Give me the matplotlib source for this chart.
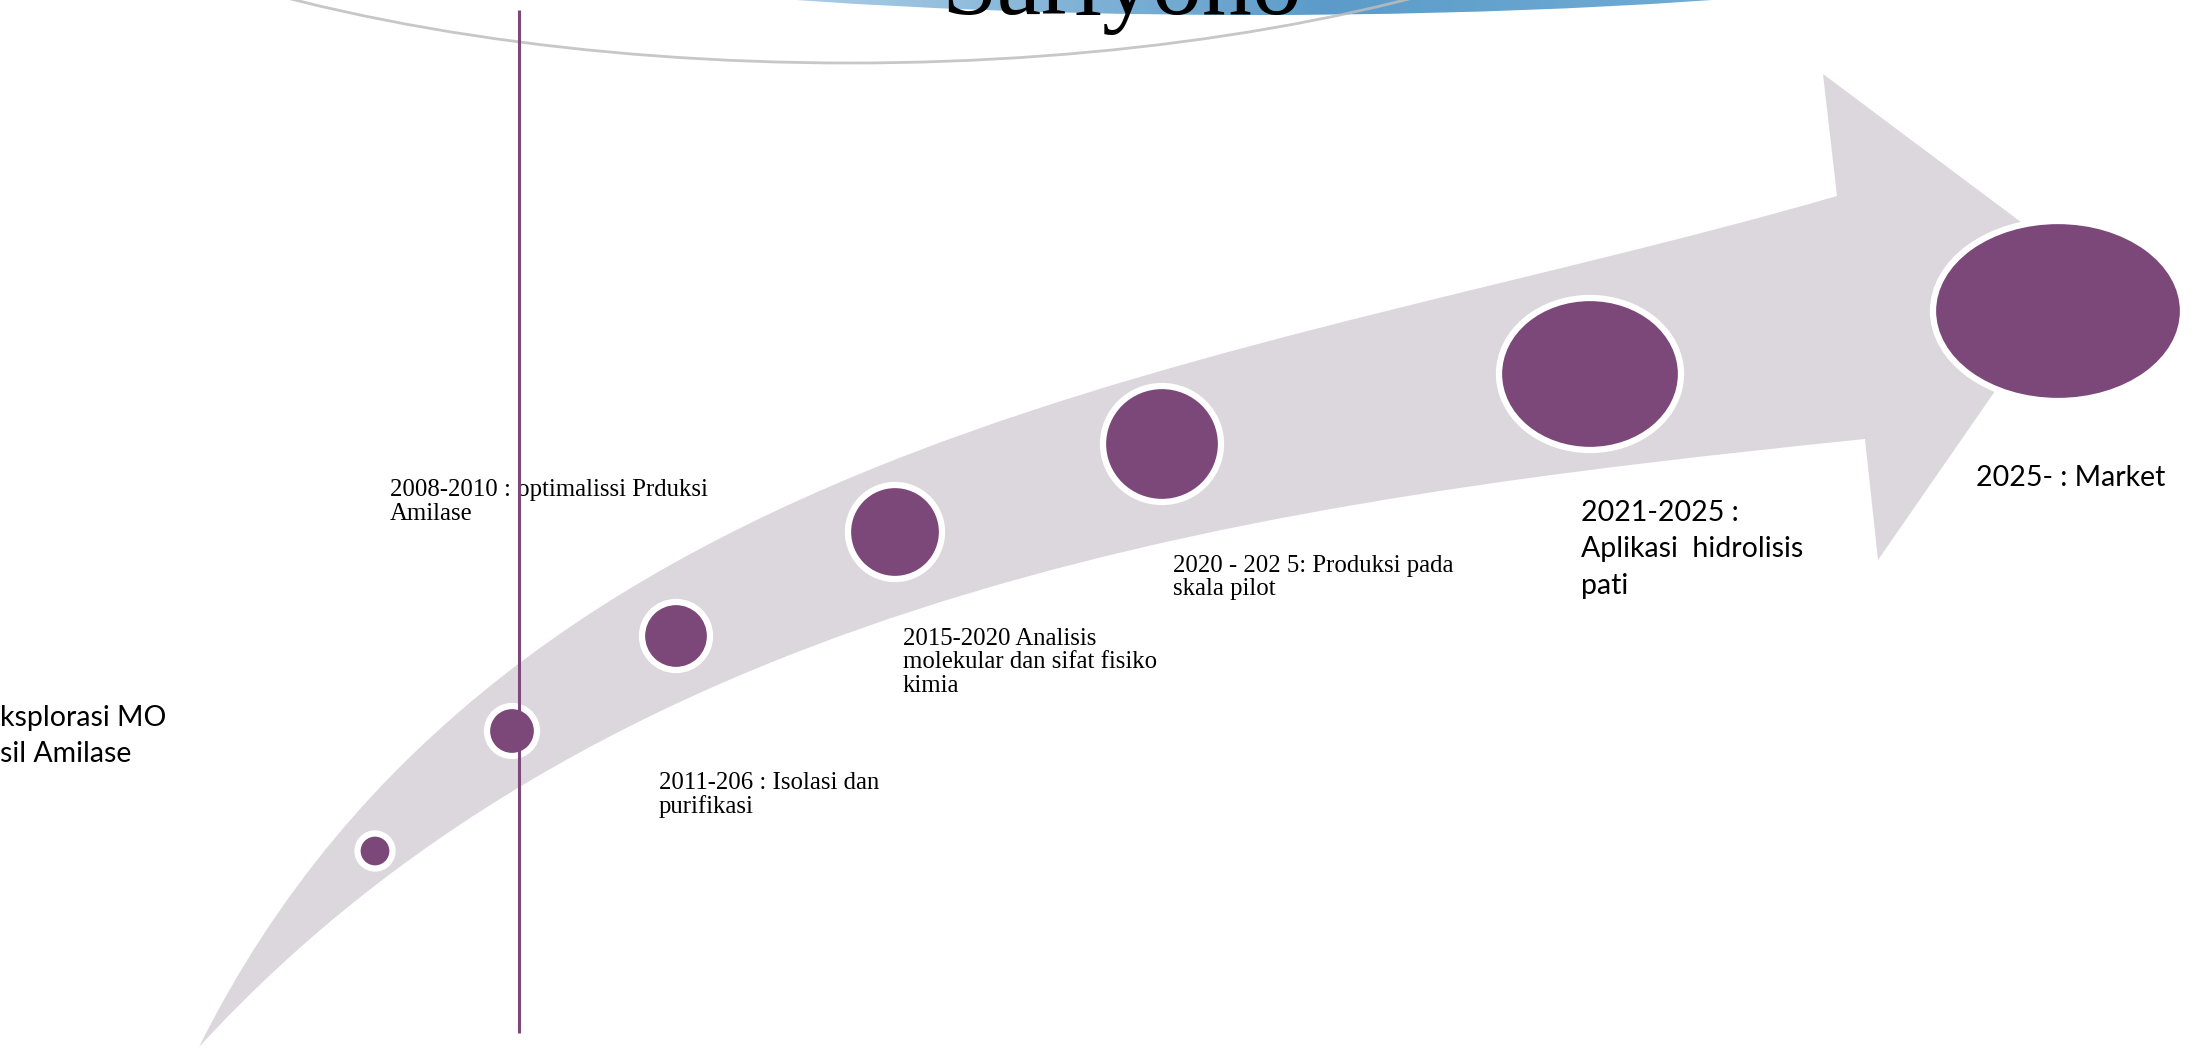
import numpy as np
import matplotlib
matplotlib.use('Agg')
import matplotlib.pyplot as plt
from matplotlib.path import Path
from matplotlib.patches import PathPatch, Ellipse

# ---- milestone data (pixel space of the slide, y grows downwards) ----
milestone_labels = [
    "ksplorasi MO\nsil Amilase",
    "2008-2010 : optimalissi Prduksi\nAmilase",
    "2011-206 : Isolasi dan\npurifikasi",
    "2015-2020 Analisis\nmolekular dan sifat fisiko\nkimia",
    "2020 - 202 5: Produksi pada\nskala pilot",
    "2021-2025 :\nAplikasi  hidrolisis\npati",
    "2025- : Market",
]
label_x = [0, 390, 659, 903, 1173, 1581, 1976]
label_y = [726, 496, 789, 645, 572, 521, 486]
label_serif = [False, True, True, True, True, False, False]

# circles along the arrow
circle_x = [375, 512, 676, 895, 1162, 1590, 2058]
circle_y = [851, 731, 636, 532, 444, 374, 311]
circle_w = [29, 44, 62, 88, 112, 176, 244]
circle_h = [29, 44, 62, 88, 110, 146, 174]

# arrow outline (cubic bezier edges + head)
upper_edge = [(199, 1047), (508, 426), (1250, 366), (1837, 196)]
arrow_head = [(1823, 74), (2081, 267), (1878, 560), (1865, 439)]
lower_edge = [(1865, 439), (1280, 499), (622, 586), (199, 1047)]

title_text = "Sariyono"

PURPLE = '#7b4879'
ARROW = '#dcd7dc'


def main():
    fig = plt.figure(figsize=(21.96, 10.48), dpi=100)
    fig.patch.set_facecolor('white')
    ax = fig.add_axes([0, 0, 1, 1])
    ax.set_xlim(0, 2196)
    ax.set_ylim(1048, 0)
    ax.axis('off')

    # blue banner at the top (gradient clipped to an ellipse)
    banner = Ellipse((1254, -100), 1858, 230, facecolor='none', edgecolor='none')
    ax.add_patch(banner)
    ramp = np.linspace(0, 1, 256)
    c0 = np.array([0.84, 0.91, 0.96])
    c1 = np.array([0.36, 0.61, 0.79])
    c2 = np.array([0.50, 0.72, 0.86])
    cols = np.where(ramp[:, None] < 0.55,
                    c0 + (c1 - c0) * (ramp[:, None] / 0.55),
                    c1 + (c2 - c1) * ((ramp[:, None] - 0.55) / 0.45))
    img = ax.imshow(cols[None, :, :], extent=(500, 2000, 20, -230),
                    aspect='auto', zorder=1)
    img.set_clip_path(banner)

    # thin grey arc
    arc = Ellipse((850, -300), 1972, 726, facecolor='none',
                  edgecolor='#bdbdbd', lw=2, alpha=0.85, zorder=2)
    ax.add_patch(arc)

    ax.text(1122, 14, title_text, fontsize=72, family='Liberation Serif',
            ha='center', va='baseline', color='black', zorder=3)

    # big curved arrow
    verts = upper_edge + arrow_head + lower_edge[1:] + [upper_edge[0]]
    codes = ([Path.MOVETO] + [Path.CURVE4] * 3 + [Path.LINETO] * 4
             + [Path.CURVE4] * 3 + [Path.CLOSEPOLY])
    ax.add_patch(PathPatch(Path(verts, codes), facecolor=ARROW,
                           edgecolor='none', zorder=4))

    # milestone circles
    for x, y, w, h in zip(circle_x, circle_y, circle_w, circle_h):
        ax.add_patch(Ellipse((x, y), w + 6, h + 6, facecolor=PURPLE,
                             edgecolor='white', lw=4.5, zorder=5))

    # vertical line
    ax.plot([519, 519], [10, 1033], color=PURPLE, lw=2.2, zorder=7,
            solid_capstyle='butt')

    # labels, one text per line
    for txt, x, y, serif in zip(milestone_labels, label_x, label_y, label_serif):
        if serif:
            fam, size, step = 'Liberation Serif', 17.8, 23.5
        else:
            fam, size, step = 'Lato', 20.5, 36.5
        for i, line in enumerate(txt.split('\n')):
            ax.text(x, y + i * step, line, fontsize=size, family=fam,
                    ha='left', va='baseline', color='black', zorder=6)

    fig.savefig('out.png', dpi=100, facecolor='white')
    plt.close(fig)


if __name__ == "__main__":
    main()
